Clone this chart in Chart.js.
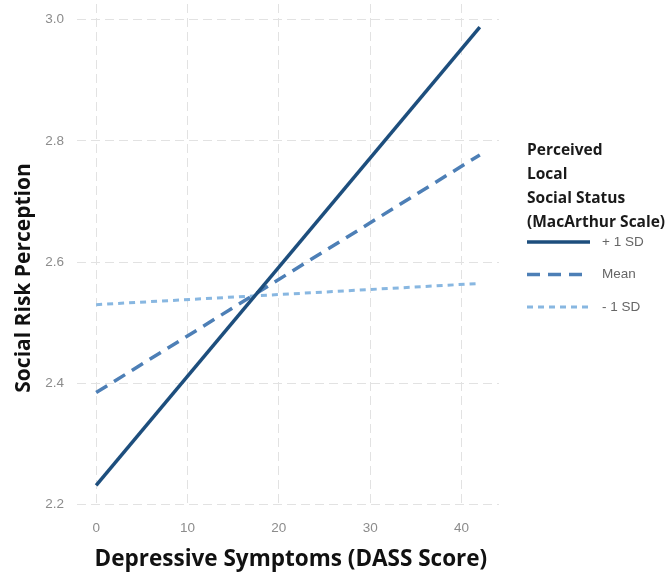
<!DOCTYPE html>
<html>
<head>
<meta charset="utf-8">
<script src="https://cdn.jsdelivr.net/npm/chart.js@4.4.1/dist/chart.umd.min.js"></script>
<style>
  html, body { margin: 0; padding: 0; background: #fff; }
  #wrap { width: 670px; height: 575px; }
</style>
</head>
<body>
<div id="wrap"><canvas id="slopes" width="670" height="575"></canvas></div>
<script>
// simple slopes: depressive symptoms x perceived local social status
const xValues = [0, 42];
const plusSD = [2.232, 2.988];
const meanSD = [2.385, 2.777];
const minusSD = [2.530, 2.565];
const seriesNames = ["+ 1 SD", "Mean", "- 1 SD"];
const xTicks = [0, 10, 20, 30, 40];
const yTicks = [2.2, 2.4, 2.6, 2.8, 3.0];
const legendTitle = ["Perceived", "Local", "Social Status", "(MacArthur Scale)"];

const toPoints = (ys) => ys.map((y, i) => ({ x: xValues[i], y: y }));

// legend on the right, ggplot style
const sideLegend = {
    id: "sideLegend",
    afterDraw(chart) {
        const ctx = chart.ctx;
        const left = 527;
        ctx.save();
        ctx.fillStyle = "#1a1a1a";
        ctx.font = "bold 15.5px 'Open Sans'";
        ctx.textBaseline = "middle";
        legendTitle.forEach((line, i) => {
            ctx.fillText(line, left, 151 + i * 23.7);
        });
        chart.data.datasets.forEach((ds, i) => {
            const y = 242 + i * 32.5;
            ctx.strokeStyle = ds.borderColor;
            ctx.lineWidth = ds.borderWidth;
            ctx.setLineDash(ds.borderDash || []);
            ctx.beginPath();
            ctx.moveTo(left, y);
            ctx.lineTo(left + 63, y);
            ctx.stroke();
            ctx.setLineDash([]);
            ctx.fillStyle = "#666";
            ctx.font = "13.5px 'Liberation Sans'";
            ctx.fillText(ds.label, 602, y);
        });
        ctx.restore();
    },
};

new Chart(document.getElementById("slopes"), {
    type: "line",
    data: {
        datasets: [
            {
                label: seriesNames[0],
                data: toPoints(plusSD),
                borderColor: "#1d4e7d",
                borderWidth: 3.5,
                pointRadius: 0,
            },
            {
                label: seriesNames[1],
                data: toPoints(meanSD),
                borderColor: "#4d7fb6",
                borderWidth: 3.5,
                borderDash: [13, 8],
                pointRadius: 0,
            },
            {
                label: seriesNames[2],
                data: toPoints(minusSD),
                borderColor: "#88b7e1",
                borderWidth: 3,
                borderDash: [6, 5],
                pointRadius: 0,
            },
        ],
    },
    options: {
        responsive: false,
        animation: false,
        layout: { padding: { left: 11, right: 171, top: 4, bottom: 1.5 } },
        plugins: { legend: { display: false }, tooltip: { enabled: false } },
        scales: {
            x: {
                type: "linear",
                min: -2.1,
                max: 44.1,
                afterBuildTicks: (axis) => {
                    axis.ticks = xTicks.map((v) => ({ value: v }));
                },
                afterFit: (axis) => {
                    axis.paddingLeft = 0;
                    axis.paddingRight = 0;
                },
                grid: { color: "#e2e2e2", lineWidth: 1, drawTicks: false },
                border: { display: false, dash: [9, 5] },
                ticks: {
                    color: "#8c8c8c",
                    font: { family: "'Liberation Sans'", size: 13.5 },
                    padding: 12,
                },
                title: {
                    display: true,
                    text: " Depressive Symptoms (DASS Score)",
                    color: "#111",
                    font: { family: "'Open Sans'", size: 22.5, weight: "bold" },
                    padding: { top: -2, bottom: 0 },
                },
            },
            y: {
                type: "linear",
                min: 2.194,
                max: 3.026,
                afterBuildTicks: (axis) => {
                    axis.ticks = yTicks.map((v) => ({ value: v }));
                },
                afterFit: (axis) => {
                    axis.paddingTop = 0;
                    axis.paddingBottom = 0;
                },
                grid: { color: "#e2e2e2", lineWidth: 1, drawTicks: false },
                border: { display: false, dash: [9, 5] },
                ticks: {
                    color: "#8c8c8c",
                    font: { family: "'Liberation Sans'", size: 13.5 },
                    padding: 13,
                    callback: (v) => v.toFixed(1),
                },
                title: {
                    display: true,
                    text: "Social Risk Perception        ",
                    color: "#111",
                    font: { family: "'Open Sans'", size: 21, weight: "bold" },
                    padding: { top: 0, bottom: -4 },
                },
            },
        },
    },
    plugins: [sideLegend],
});
</script>
</body>
</html>
